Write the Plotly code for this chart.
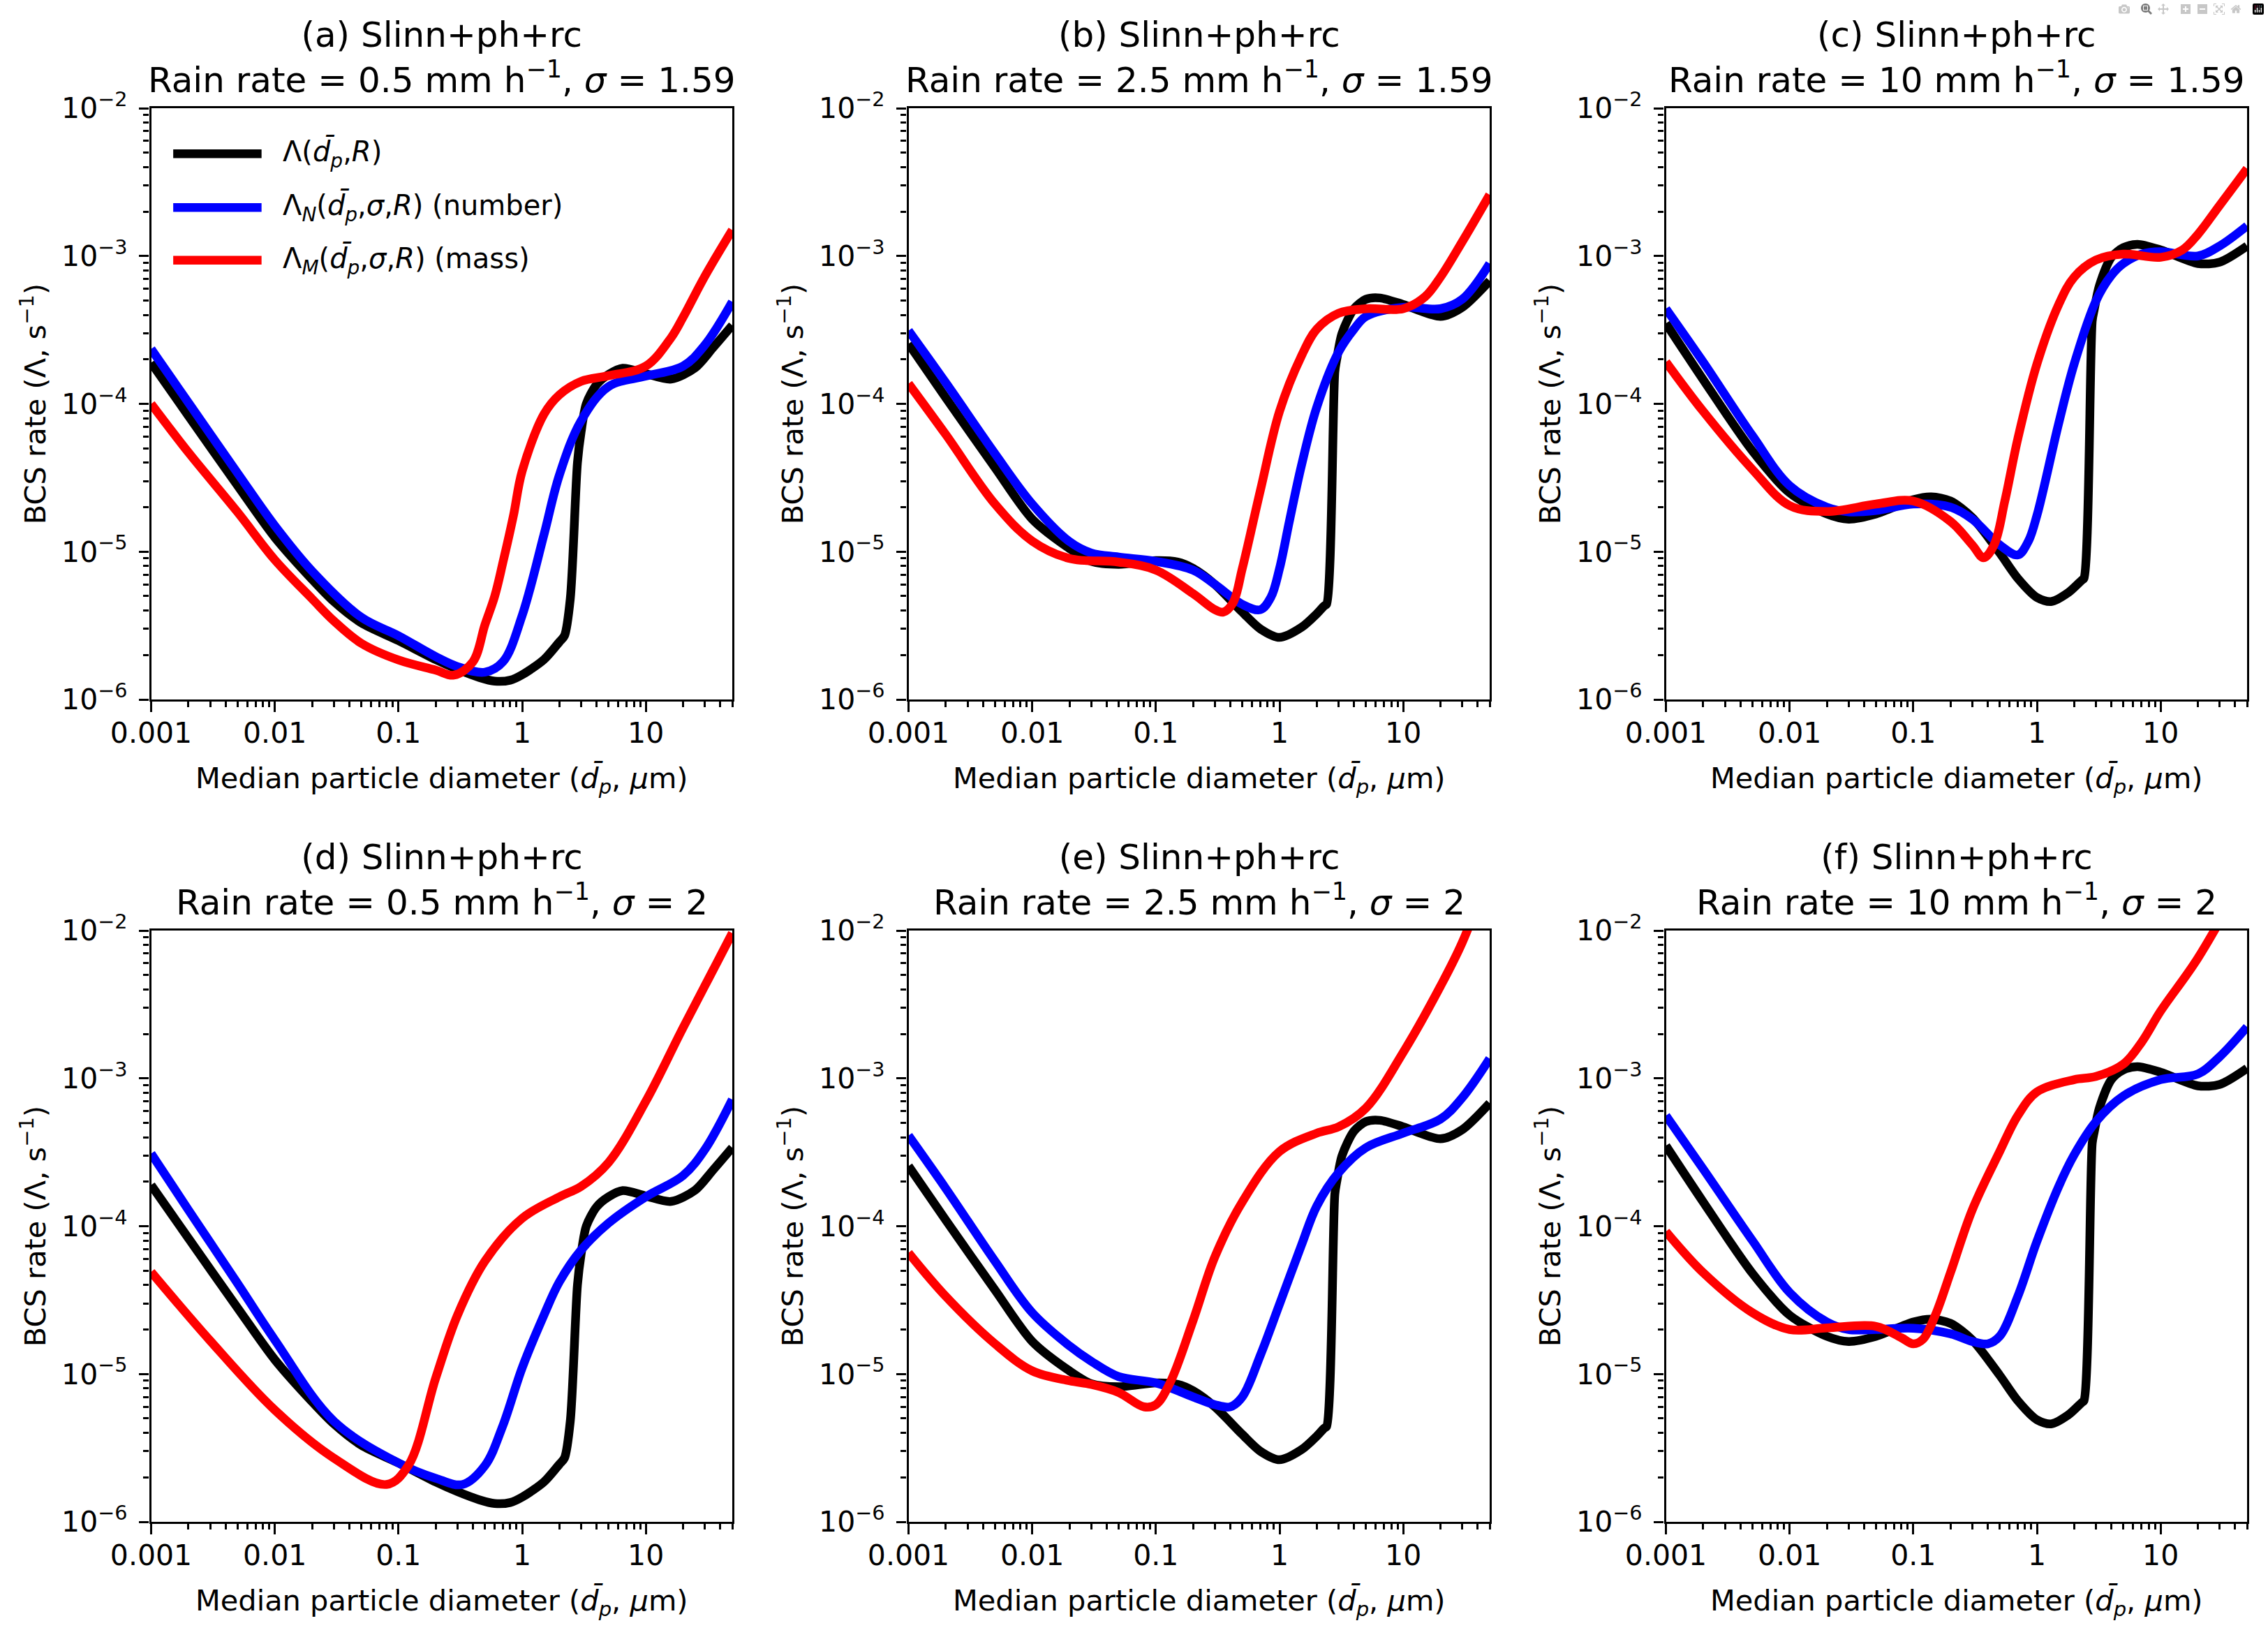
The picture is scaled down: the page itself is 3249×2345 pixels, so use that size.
import math
import plotly.graph_objects as go

# ------------------------------------------------------------------
# Data
# ------------------------------------------------------------------
panel_letters = ["a", "b", "c", "d", "e", "f"]
rain_rate_labels = ["0.5", "2.5", "10", "0.5", "2.5", "10"]
sigma_labels = ["1.59", "1.59", "1.59", "2", "2", "2"]

x_tick_vals = [0.001, 0.01, 0.1, 1, 10]
x_tick_text = ["0.001", "0.01", "0.1", "1", "10"]
y_tick_vals = [1e-6, 1e-5, 1e-4, 1e-3, 1e-2]
y_tick_text = ["10<sup>\u22126</sup>", "10<sup>\u22125</sup>", "10<sup>\u22124</sup>",
               "10<sup>\u22123</sup>", "10<sup>\u22122</sup>"]

# Black: Lambda(dp, R)  (independent of sigma)
x_black_r05 = [0.001, 0.002, 0.005, 0.01, 0.02, 0.03, 0.05, 0.1, 0.2, 0.3, 0.45, 0.6, 0.8, 1.0, 1.5,
               2.0, 2.2, 2.45, 2.8, 3.0, 3.3, 4, 5, 6.5, 10, 16, 25, 35, 50]
y_black_r05 = [1.9e-4, 8.3e-5, 2.8e-5, 1.25e-5, 6.5e-6, 4.6e-6, 3.3e-6, 2.5e-6, 1.86e-6, 1.6e-6, 1.41e-6,
               1.33e-6, 1.35e-6, 1.47e-6, 1.86e-6, 2.45e-6, 2.7e-6, 4.8e-6, 4.0e-5, 6.5e-5, 1.0e-4,
               1.35e-4, 1.58e-4, 1.74e-4, 1.6e-4, 1.47e-4, 1.75e-4, 2.4e-4, 3.4e-4]

x_black_r25 = [0.001, 0.002, 0.005, 0.01, 0.02, 0.03, 0.05, 0.1, 0.15, 0.2, 0.3, 0.5, 0.7, 1.0, 1.5,
               2.0, 2.3, 2.4, 2.8, 2.9, 3.2, 4, 5, 6.5, 10, 20, 30, 50]
y_black_r25 = [2.55e-4, 1.1e-4, 3.7e-5, 1.66e-5, 1.05e-5, 8.6e-6, 8.2e-6, 8.7e-6, 8.5e-6, 7.7e-6, 6.0e-6,
               3.9e-6, 3.0e-6, 2.63e-6, 3.07e-6, 3.8e-6, 4.3e-6, 4.4e-6, 1.65e-4, 2.0e-4, 3.0e-4,
               4.4e-4, 5.1e-4, 5.2e-4, 4.7e-4, 3.9e-4, 4.5e-4, 6.8e-4]

x_black_r10 = [0.001, 0.002, 0.005, 0.01, 0.02, 0.03, 0.05, 0.1, 0.14, 0.2, 0.3, 0.5, 0.7, 1.0, 1.3,
               1.8, 2.3, 2.4, 2.8, 2.9, 3.2, 4, 5, 6.5, 10, 20, 30, 50]
y_black_r10 = [3.5e-4, 1.46e-4, 4.8e-5, 2.5e-5, 1.8e-5, 1.66e-5, 1.8e-5, 2.25e-5, 2.35e-5, 2.2e-5, 1.7e-5,
               9.8e-6, 6.6e-6, 4.9e-6, 4.6e-6, 5.3e-6, 6.4e-6, 6.6e-6, 3.65e-4, 4.3e-4, 6.3e-4,
               9.8e-4, 1.14e-3, 1.2e-3, 1.1e-3, 8.9e-4, 9.1e-4, 1.17e-3]

# Blue: Lambda_N (number)
x_blue_a = [0.001, 0.002, 0.005, 0.01, 0.02, 0.05, 0.1, 0.2, 0.3, 0.5, 0.7, 1.0, 1.5, 2, 3, 5, 10, 20, 30, 50]
y_blue_a = [2.35e-4, 1.02e-4, 3.4e-5, 1.5e-5, 7.4e-6, 3.6e-6, 2.7e-6, 1.95e-6, 1.67e-6, 1.53e-6, 1.8e-6,
            3.7e-6, 1.3e-5, 3.3e-5, 7.7e-5, 1.31e-4, 1.54e-4, 1.8e-4, 2.5e-4, 4.9e-4]

x_blue_b = [0.001, 0.002, 0.005, 0.01, 0.02, 0.03, 0.05, 0.1, 0.2, 0.3, 0.5, 0.7, 0.85, 1.0, 1.2, 1.5, 2, 3,
            4, 5, 10, 20, 30, 50]
y_blue_b = [3.13e-4, 1.39e-4, 4.6e-5, 2.1e-5, 1.17e-5, 9.8e-6, 9.2e-6, 8.6e-6, 7.5e-6, 6.0e-6, 4.4e-6,
            4.05e-6, 4.9e-6, 7.7e-6, 1.6e-5, 3.8e-5, 9.5e-5, 2.24e-4, 3.2e-4, 3.9e-4, 4.5e-4, 4.4e-4,
            5.1e-4, 8.9e-4]

x_blue_c = [0.001, 0.002, 0.005, 0.01, 0.02, 0.03, 0.05, 0.1, 0.2, 0.3, 0.5, 0.7, 0.85, 1.0, 1.5, 2, 3, 4,
            5, 7, 10, 20, 30, 50]
y_blue_c = [4.4e-4, 1.92e-4, 6.1e-5, 2.8e-5, 2.0e-5, 1.86e-5, 1.9e-5, 2.1e-5, 2.0e-5, 1.66e-5, 1.11e-5,
            9.5e-6, 1.17e-5, 1.76e-5, 7.4e-5, 1.86e-4, 4.97e-4, 7.4e-4, 8.9e-4, 1.03e-3, 1.07e-3,
            1.0e-3, 1.17e-3, 1.6e-3]

x_blue_d = [0.001, 0.002, 0.005, 0.01, 0.03, 0.1, 0.2, 0.33, 0.5, 0.7, 1.0, 1.5, 2, 3, 5, 10, 20, 30, 50]
y_blue_d = [3.1e-4, 1.29e-4, 4.1e-5, 1.7e-5, 4.8e-6, 2.5e-6, 1.97e-6, 1.79e-6, 2.4e-6, 4.5e-6, 1.1e-5,
            2.5e-5, 4.2e-5, 6.9e-5, 1.05e-4, 1.58e-4, 2.2e-4, 3.3e-4, 7.2e-4]

x_blue_e = [0.001, 0.002, 0.005, 0.01, 0.02, 0.03, 0.05, 0.1, 0.2, 0.3, 0.4, 0.5, 0.7, 1.0, 1.5, 2, 3, 5,
            10, 20, 30, 50]
y_blue_e = [4.1e-4, 1.8e-4, 5.8e-5, 2.6e-5, 1.55e-5, 1.22e-5, 9.6e-6, 8.7e-6, 7.0e-6, 6.2e-6, 6.0e-6,
            7.0e-6, 1.34e-5, 2.97e-5, 7.4e-5, 1.37e-4, 2.3e-4, 3.4e-4, 4.26e-4, 5.3e-4, 7.4e-4, 1.36e-3]

x_blue_f = [0.001, 0.002, 0.005, 0.01, 0.02, 0.03, 0.05, 0.1, 0.2, 0.3, 0.4, 0.5, 0.7, 1.0, 1.5, 2, 3, 5,
            10, 20, 30, 50]
y_blue_f = [5.6e-4, 2.44e-4, 8.0e-5, 3.56e-5, 2.25e-5, 2.0e-5, 2.0e-5, 2.04e-5, 1.87e-5, 1.66e-5, 1.6e-5,
            1.8e-5, 3.35e-5, 7.9e-5, 1.86e-4, 3.04e-4, 5.1e-4, 7.6e-4, 9.8e-4, 1.07e-3, 1.4e-3, 2.23e-3]

# Red: Lambda_M (mass)
x_red_a = [0.001, 0.002, 0.005, 0.01, 0.02, 0.03, 0.05, 0.1, 0.2, 0.28, 0.4, 0.5, 0.6, 0.7, 0.85, 1.0,
           1.5, 2, 3, 5, 10, 16, 20, 30, 50]
y_red_a = [1.0e-4, 4.7e-5, 1.85e-5, 8.8e-6, 4.8e-6, 3.4e-6, 2.4e-6, 1.85e-6, 1.58e-6, 1.46e-6, 1.8e-6,
           3.2e-6, 5.0e-6, 8.5e-6, 1.75e-5, 3.5e-5, 8.5e-5, 1.15e-4, 1.42e-4, 1.55e-4, 1.8e-4, 2.8e-4,
           3.85e-4, 7.3e-4, 1.5e-3]

x_red_b = [0.001, 0.002, 0.005, 0.01, 0.02, 0.05, 0.1, 0.2, 0.3, 0.35, 0.42, 0.5, 0.7, 1.0, 1.5, 2, 3, 5,
           10, 15, 20, 30, 50]
y_red_b = [1.37e-4, 6.2e-5, 2.1e-5, 1.18e-5, 9.0e-6, 8.5e-6, 7.5e-6, 5.2e-6, 4.05e-6, 3.9e-6, 4.5e-6,
           7.7e-6, 2.6e-5, 8.9e-5, 2.1e-4, 3.2e-4, 4.1e-4, 4.4e-4, 4.4e-4, 5.3e-4, 7.2e-4, 1.25e-3, 2.6e-3]

x_red_c = [0.001, 0.002, 0.005, 0.01, 0.02, 0.05, 0.1, 0.2, 0.3, 0.37, 0.45, 0.55, 0.7, 1.0, 1.5, 2, 3, 5,
           10, 15, 20, 30, 50]
y_red_c = [1.92e-4, 8.9e-5, 3.6e-5, 2.05e-5, 1.87e-5, 2.1e-5, 2.2e-5, 1.6e-5, 1.11e-5, 9.1e-6, 1.11e-5,
           2.2e-5, 5.8e-5, 1.86e-4, 4.7e-4, 7.2e-4, 9.4e-4, 1.03e-3, 9.8e-4, 1.1e-3, 1.4e-3, 2.2e-3, 3.9e-3]

x_red_d = [0.001, 0.003, 0.01, 0.03, 0.08, 0.12, 0.2, 0.3, 0.5, 1.0, 2, 3, 5, 10, 20, 50]
y_red_d = [4.9e-5, 1.68e-5, 5.7e-6, 2.7e-6, 1.79e-6, 2.4e-6, 9.4e-6, 2.5e-5, 5.8e-5, 1.13e-4, 1.58e-4,
           1.86e-4, 2.7e-4, 7.0e-4, 2.2e-3, 9.6e-3]

x_red_e = [0.001, 0.002, 0.005, 0.01, 0.02, 0.03, 0.05, 0.08, 0.1, 0.13, 0.2, 0.3, 0.5, 1.0, 2, 3, 5, 10,
           20, 30, 50]
y_red_e = [6.6e-5, 3.35e-5, 1.6e-5, 1.05e-5, 9.0e-6, 8.5e-6, 7.5e-6, 6.0e-6, 6.2e-6, 8.7e-6, 2.3e-5,
           6.2e-5, 1.46e-4, 3.2e-4, 4.26e-4, 4.7e-4, 6.3e-4, 1.5e-3, 4.2e-3, 8.3e-3, 2.5e-2]

x_red_f = [0.001, 0.002, 0.005, 0.01, 0.02, 0.05, 0.08, 0.1, 0.12, 0.15, 0.2, 0.3, 0.5, 0.7, 1.0, 2, 3, 5,
           7, 10, 20, 50]
y_red_f = [9.2e-5, 4.85e-5, 2.6e-5, 2.0e-5, 2.05e-5, 2.1e-5, 1.76e-5, 1.6e-5, 1.72e-5, 2.47e-5, 4.85e-5,
           1.29e-4, 3.2e-4, 5.6e-4, 8.1e-4, 9.8e-4, 1.03e-3, 1.25e-3, 1.75e-3, 2.85e-3, 6.5e-3, 2.5e-2]

black_series = [(x_black_r05, y_black_r05), (x_black_r25, y_black_r25), (x_black_r10, y_black_r10),
                (x_black_r05, y_black_r05), (x_black_r25, y_black_r25), (x_black_r10, y_black_r10)]
blue_series = [(x_blue_a, y_blue_a), (x_blue_b, y_blue_b), (x_blue_c, y_blue_c),
               (x_blue_d, y_blue_d), (x_blue_e, y_blue_e), (x_blue_f, y_blue_f)]
red_series = [(x_red_a, y_red_a), (x_red_b, y_red_b), (x_red_c, y_red_c),
              (x_red_d, y_red_d), (x_red_e, y_red_e), (x_red_f, y_red_f)]

legend_labels = [
    "\u039b(<i>d\u0304</i><sub><i>p</i></sub>,<i>R</i>)",
    "\u039b<sub><i>N</i></sub>(<i>d\u0304</i><sub><i>p</i></sub>,<i>\u03c3</i>,<i>R</i>) (number)",
    "\u039b<sub><i>M</i></sub>(<i>d\u0304</i><sub><i>p</i></sub>,<i>\u03c3</i>,<i>R</i>) (mass)",
]
colors = ["#000000", "#0000ff", "#ff0000"]

# ------------------------------------------------------------------
# Layout geometry (pixels in the 3249 x 2345 page)
# ------------------------------------------------------------------
W, H = 3249, 2345
FONT = "DejaVu Sans"
col_left = [216.5, 1301.5, 2386.5]
ax_w = 832.5
row_top = [155, 1333]
ax_h = 847

fig = go.Figure()

minor_x = [m * 10 ** e for e in range(-3, 2) for m in range(2, 10) if m * 10 ** e <= 50]
minor_y = [m * 10 ** e for e in range(-6, -2) for m in range(2, 10)]

for i in range(6):
    r, c = divmod(i, 3)
    n = i + 1
    xa = "xaxis" if n == 1 else f"xaxis{n}"
    ya = "yaxis" if n == 1 else f"yaxis{n}"
    xr = "x" if n == 1 else f"x{n}"
    yr = "y" if n == 1 else f"y{n}"
    x0 = col_left[c] / W
    x1 = (col_left[c] + ax_w) / W
    y1 = 1 - row_top[r] / H
    y0 = 1 - (row_top[r] + ax_h) / H

    fig.update_layout({
        xa: dict(
            type="log", domain=[x0, x1], anchor=yr, range=[-3, math.log10(50)],
            automargin=False,
            tickmode="array", tickvals=x_tick_vals, ticktext=x_tick_text,
            ticks="outside", ticklen=14.6, tickwidth=3.3, tickcolor="black",
            ticklabelstandoff=-5,
            showline=True, linewidth=3.3, linecolor="black", mirror=True,
            showgrid=False, zeroline=False,
            tickfont=dict(family=FONT, size=41, color="black"),
            minor=dict(tickmode="array", tickvals=minor_x, ticks="outside", ticklen=8.3,
                       tickwidth=2.5, tickcolor="black", showgrid=False),
            title=dict(text="Median particle diameter (<i>d\u0304</i><sub><i>p</i></sub>, <i>\u03bc</i>m)",
                       font=dict(family=FONT, size=41.5, color="black"), standoff=27),
        ),
        ya: dict(
            type="log", domain=[y0, y1], anchor=xr, range=[-6, -2],
            automargin=False,
            tickmode="array", tickvals=y_tick_vals, ticktext=y_tick_text,
            ticks="outside", ticklen=14.6, tickwidth=3.3, tickcolor="black",
            ticklabelstandoff=8,
            showline=True, linewidth=3.3, linecolor="black", mirror=True,
            showgrid=False, zeroline=False,
            tickfont=dict(family=FONT, size=41, color="black"),
            minor=dict(tickmode="array", tickvals=minor_y, ticks="outside", ticklen=8.3,
                       tickwidth=2.5, tickcolor="black", showgrid=False),
            title=dict(text="BCS rate (\u039b, s<sup>\u22121</sup>)",
                       font=dict(family=FONT, size=41.5, color="black"), standoff=10),
        ),
    })

    series = [black_series[i], blue_series[i], red_series[i]]
    for k, (xs, ys) in enumerate(series):
        fig.add_trace(go.Scatter(
            x=xs, y=ys, mode="lines", xaxis=xr, yaxis=yr, showlegend=False,
            line=dict(color=colors[k], width=12.5, shape="spline",
                      smoothing=0.8 if k == 0 else 1.0),
            hoverinfo="skip",
        ))

    title = (f"({panel_letters[i]}) Slinn+ph+rc<br>Rain rate = {rain_rate_labels[i]} mm h"
             f"<sup>\u22121</sup>, <i>\u03c3</i> = {sigma_labels[i]}")
    fig.add_annotation(
        text=title, xref=f"{xr} domain", yref=f"{yr} domain", x=0.5, y=1,
        xanchor="center", yanchor="bottom", yshift=9, showarrow=False,
        align="center", font=dict(family=FONT, size=50, color="black"),
    )

# Legend (panel a)
leg_y = [0.923, 0.832, 0.743]
for k in range(3):
    fig.add_shape(type="line", xref="x domain", yref="y domain",
                  x0=0.038, x1=0.190, y0=leg_y[k], y1=leg_y[k],
                  line=dict(color=colors[k], width=12.5))
    fig.add_annotation(text=legend_labels[k], xref="x domain", yref="y domain",
                       x=0.224, y=leg_y[k], xanchor="left", yanchor="middle",
                       showarrow=False, font=dict(family=FONT, size=40, color="black"))

fig.update_layout(
    width=W, height=H, autosize=False,
    margin=dict(l=0, r=0, t=0, b=0, autoexpand=False),
    paper_bgcolor="white", plot_bgcolor="white",
    font=dict(family=FONT, color="black"),
    showlegend=False,
)

fig.write_html("out.html", post_script="document.body.style.margin='0px';")
